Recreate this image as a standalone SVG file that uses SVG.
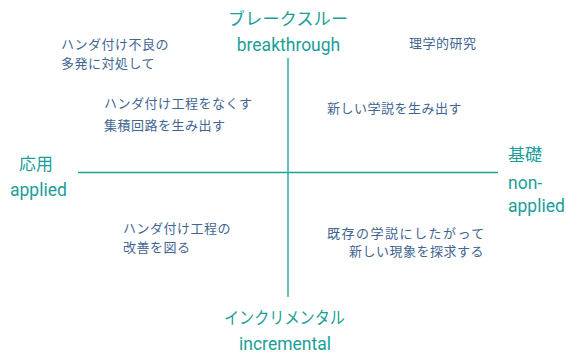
<svg xmlns="http://www.w3.org/2000/svg" width="566" height="356" viewBox="0 0 566 356">
<style>
.ax{font-family:"Noto Sans CJK JP","Noto Sans",sans-serif;font-size:17px;fill:#1a9e98}
.en{font-family:Roboto,"Noto Sans",sans-serif;font-size:17.5px;fill:#1a9e98}
.t{font-family:"Noto Sans CJK JP","Noto Sans",sans-serif;font-size:13px;fill:#3f6592;letter-spacing:0.5px}
</style>
<rect width="566" height="356" fill="#ffffff"/>
<g id="connectors">
<line x1="288" y1="58" x2="288" y2="297" stroke="#5ec6c1" stroke-width="2"/>
<line x1="78" y1="172.5" x2="498" y2="172.5" stroke="#1a9e98" stroke-width="1.6"/>
</g>
<g id="top"><text class="ax" x="228" y="25" textLength="120">ブレークスルー</text><text class="en" x="288.5" y="51" text-anchor="middle">breakthrough</text></g>
<g id="bottom"><text class="ax" x="224" y="324" textLength="121" lengthAdjust="spacingAndGlyphs">インクリメンタル</text><text class="en" x="285" y="350" text-anchor="middle">incremental</text></g>
<g id="left"><text class="ax" x="19" y="170">応用</text><text class="en" x="10" y="196">applied</text></g>
<g id="right"><text class="ax" x="508" y="161">基礎</text><text class="en" x="508" y="189">non-</text><text class="en" x="508" y="212">applied</text></g>
<g id="n1"><text class="t" x="61" y="49">ハンダ付け不良の</text><text class="t" x="61" y="68">多発に対処して</text></g>
<g id="n2"><text class="t" x="104" y="108">ハンダ付け工程をなくす</text><text class="t" x="104" y="130">集積回路を生み出す</text></g>
<g id="n3"><text class="t" x="409" y="48">理学的研究</text></g>
<g id="n4"><text class="t" x="327" y="113">新しい学説を生み出す</text></g>
<g id="n5"><text class="t" x="123" y="233">ハンダ付け工程の</text><text class="t" x="123" y="252">改善を図る</text></g>
<g id="n6"><text class="t" x="327" y="238" style="letter-spacing:1.5px">既存の学説にしたがって</text><text class="t" x="349" y="256">新しい現象を探求する</text></g>
</svg>
